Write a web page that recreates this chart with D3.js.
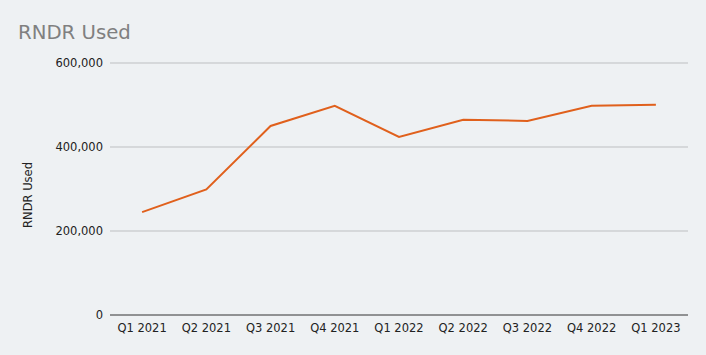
<!DOCTYPE html>
<html><head><meta charset="utf-8">
<script src="https://cdn.jsdelivr.net/npm/d3@7"></script>
<style>
html,body{margin:0;padding:0;background:#eef1f3;}
svg{display:block;}
</style></head>
<body>
<svg id="chart" width="706" height="355"></svg>
<script>
const categories = ["Q1 2021","Q2 2021","Q3 2021","Q4 2021","Q1 2022","Q2 2022","Q3 2022","Q4 2022","Q1 2023"];
const rndrUsed = [245000, 299000, 450000, 498000, 424000, 465000, 462000, 498000, 500500];
const yTicks = [0, 200000, 400000, 600000];
const title = "RNDR Used";
const yLabel = "RNDR Used";

const svg = d3.select("#chart");
const W = 706, H = 355;
const m = {left:110, right:18, top:63, bottom:40};
svg.append("rect").attr("width",W).attr("height",H).attr("fill","#eef1f3");

const x = d3.scalePoint().domain(categories).range([m.left, W-m.right]).padding(0.5);
const y = d3.scaleLinear().domain([0,600000]).range([H-m.bottom, m.top]);

svg.append("text").attr("x",18).attr("y",39).text(title)
  .attr("font-family","DejaVu Sans, sans-serif").attr("font-size",19.7).attr("fill","#808080");

// grid
svg.append("g").selectAll("line").data(yTicks.filter(d=>d>0)).join("line")
  .attr("x1",m.left).attr("x2",W-m.right)
  .attr("y1",d=>y(d)).attr("y2",d=>y(d))
  .attr("stroke","#bdbfc1").attr("stroke-width",1);

const fmt = d3.format(",");
svg.append("g").selectAll("text").data(yTicks).join("text")
  .attr("x",m.left-7).attr("y",d=>y(d)).attr("dy","0.35em")
  .attr("text-anchor","end").text(d=>fmt(d))
  .attr("font-family","DejaVu Sans, sans-serif").attr("font-size",11.5).attr("fill","#222");

// baseline
svg.append("line").attr("x1",m.left).attr("x2",W-m.right)
  .attr("y1",y(0)).attr("y2",y(0)).attr("stroke","#333").attr("stroke-width",1);

svg.append("g").selectAll("text").data(categories).join("text")
  .attr("x",d=>x(d)).attr("y",y(0)+17)
  .attr("text-anchor","middle").text(d=>d)
  .attr("font-family","DejaVu Sans, sans-serif").attr("font-size",11.5).attr("fill","#222");

svg.append("text").attr("transform",`translate(32,195) rotate(-90)`)
  .attr("text-anchor","middle").text(yLabel)
  .attr("font-family","DejaVu Sans, sans-serif").attr("font-size",11.5).attr("fill","#222");

const line = d3.line().x((d,i)=>x(categories[i])).y(d=>y(d));
svg.append("path").datum(rndrUsed).attr("d",line)
  .attr("fill","none").attr("stroke","#e0601c").attr("stroke-width",2).attr("stroke-linejoin","miter");
</script>
</body></html>
